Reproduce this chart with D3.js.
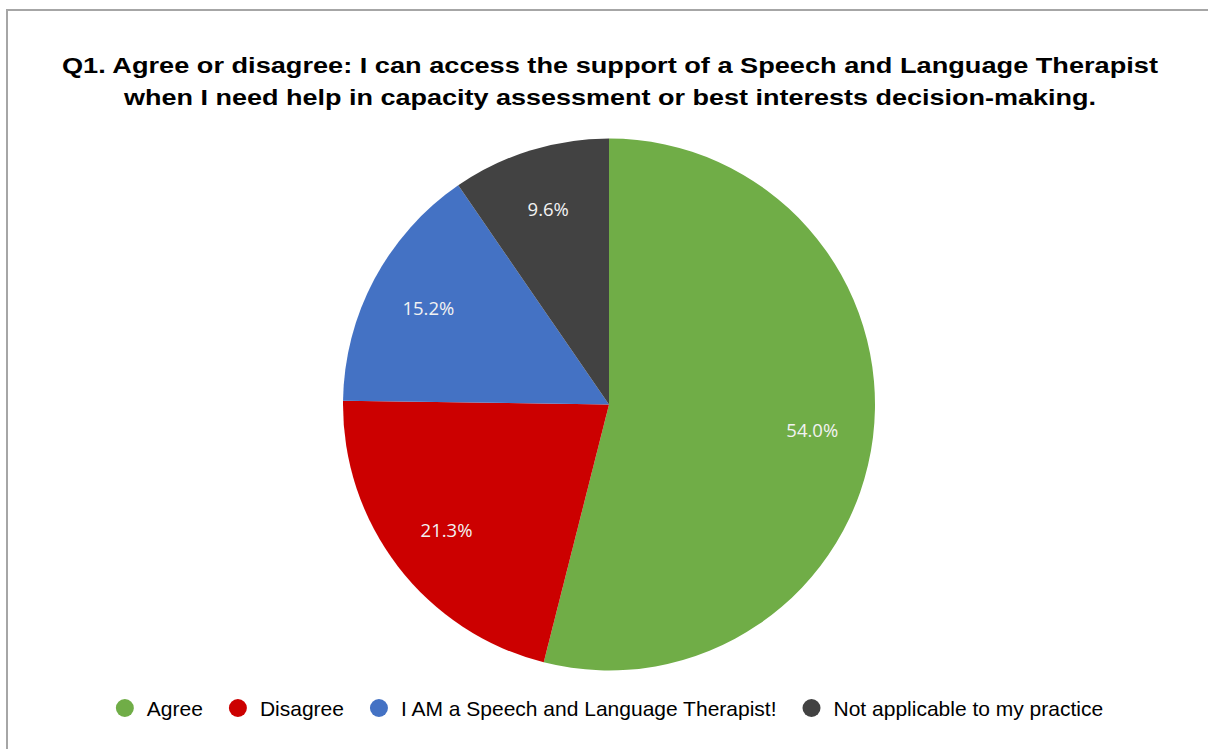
<!DOCTYPE html>
<html>
<head>
<meta charset="utf-8">
<script src="https://cdn.jsdelivr.net/npm/d3@7/dist/d3.min.js"></script>
<style>
  html, body { margin: 0; padding: 0; background: #fff; }
  svg { display: block; }
</style>
</head>
<body>
<svg id="chart" width="1208" height="749"></svg>
<script>
// Survey responses (percent of respondents)
const categories = ["Agree", "Disagree", "I AM a Speech and Language Therapist!", "Not applicable to my practice"];
const values = [54.0, 21.3, 15.2, 9.6];
const colors = ["#70ad47", "#cc0000", "#4472c4", "#424242"];
const titleLines = [
  "Q1. Agree or disagree: I can access the support of a Speech and Language Therapist",
  "when I need help in capacity assessment or best interests decision-making."
];
const titleWidths = [1096, 972];

const W = 1208, H = 749;
const svg = d3.select("#chart");

// chart frame
svg.append("rect")
  .attr("x", 7).attr("y", 10)
  .attr("width", W + 10).attr("height", H + 10)
  .attr("fill", "#fff")
  .attr("stroke", "#a6a6a6")
  .attr("stroke-width", 2);

// title, two centred bold lines
svg.append("g").selectAll("text")
  .data(titleLines)
  .join("text")
  .attr("x", 610)
  .attr("y", (d, i) => 72.5 + i * 32)
  .attr("text-anchor", "middle")
  .attr("font-family", "Liberation Sans, Arial, sans-serif")
  .attr("font-weight", "bold")
  .attr("font-size", 21.5)
  .attr("textLength", (d, i) => titleWidths[i])
  .attr("lengthAdjust", "spacingAndGlyphs")
  .attr("fill", "#000")
  .text(d => d);

// pie
const cx = 609, cy = 404.5, R = 266;
const data = categories.map((c, i) => ({ name: c, value: values[i], color: colors[i] }));
const pie = d3.pie().value(d => d.value).sort(null);
const arcs = pie(data);
const arc = d3.arc().innerRadius(0).outerRadius(R);
const labelArc = d3.arc().innerRadius(R * 0.77).outerRadius(R * 0.77);

const g = svg.append("g").attr("transform", `translate(${cx},${cy})`);
g.selectAll("path")
  .data(arcs)
  .join("path")
  .attr("d", arc)
  .attr("fill", d => d.data.color);

g.selectAll("text")
  .data(arcs)
  .join("text")
  .attr("transform", d => `translate(${labelArc.centroid(d)})`)
  .attr("text-anchor", "middle")
  .attr("dominant-baseline", "central")
  .attr("font-family", "Open Sans, sans-serif")
  .attr("font-size", 18.5)
  .attr("fill", "#f2f2f2")
  .text(d => d3.format(".1f")(d.data.value) + "%");

// legend, centred under the pie
const legend = svg.append("g").attr("font-family", "Liberation Sans, Arial, sans-serif").attr("font-size", 21);
const legendY = 708;
const items = legend.selectAll("g").data(data).join("g");
items.append("circle").attr("r", 9).attr("cy", legendY).attr("fill", d => d.color);
items.append("text").attr("x", 22).attr("y", legendY).attr("dominant-baseline", "central")
  .attr("fill", "#000").text(d => d.name);
const gap = 26;
const widths = [];
items.each(function () { widths.push(this.getBBox().width); });
const total = d3.sum(widths) + gap * (widths.length - 1);
let pos = 609.5 - total / 2 + 9;
items.attr("transform", (d, i) => {
  const t = `translate(${pos},0)`;
  pos += widths[i] + gap;
  return t;
});
</script>
</body>
</html>
